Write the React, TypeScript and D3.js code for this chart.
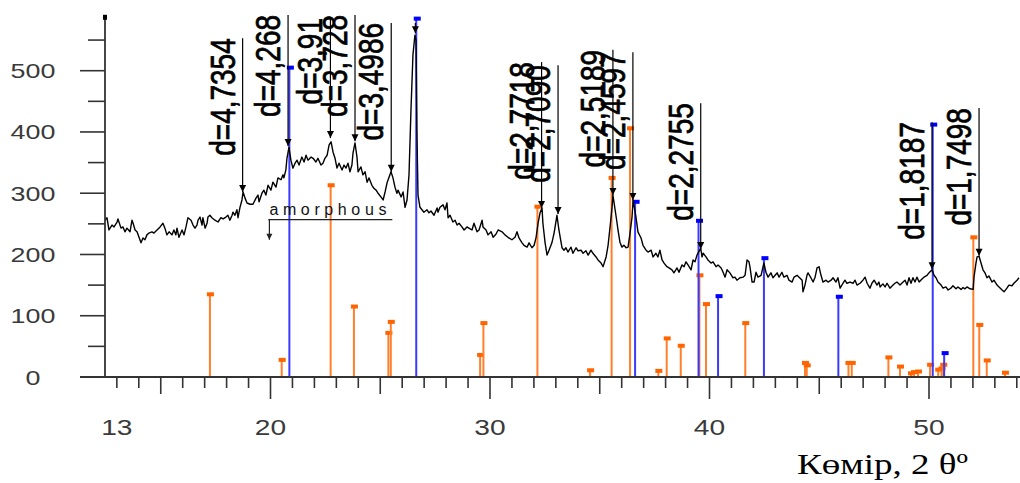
import React from 'react';
import * as d3 from 'd3';

// Measured XRD scan: [2θ (deg), intensity (counts)]
const scan: [number, number][] = [
  [12.46,256],[12.55,260],[12.64,240],[12.78,248],[12.87,245],[13.01,253],[13.05,258],[13.19,243],[13.28,245],[13.37,237],[13.46,243],[13.60,237],[13.69,256],[13.74,251],[13.83,240],[13.92,237],[14.01,228],[14.10,219],[14.19,227],[14.28,224],[14.37,232],[14.46,235],[14.60,237],[14.69,235],[14.83,240],[14.97,245],[15.10,251],[15.19,243],[15.28,232],[15.38,237],[15.51,232],[15.60,240],[15.69,232],[15.74,243],[15.83,228],[15.97,240],[16.06,232],[16.15,245],[16.24,260],[16.38,256],[16.47,248],[16.56,243],[16.65,248],[16.70,256],[16.79,261],[16.88,248],[16.92,260],[17.02,243],[17.11,251],[17.15,261],[17.24,264],[17.33,260],[17.47,256],[17.61,253],[17.74,260],[17.84,258],[17.97,261],[18.06,264],[18.15,256],[18.25,264],[18.29,269],[18.38,264],[18.47,273],[18.52,260],[18.61,277],[18.70,289],[18.75,302],[18.84,292],[18.93,284],[19.07,282],[19.20,282],[19.34,292],[19.43,297],
  [19.48,286],[19.61,300],[19.70,305],[19.79,297],[19.89,313],[20.02,305],[20.11,318],[20.25,310],[20.34,325],[20.48,322],[20.57,330],[20.61,325],[20.70,338],[20.75,357],[20.84,375],[20.93,354],[21.02,341],[21.12,349],[21.21,354],[21.30,346],[21.43,359],[21.53,351],[21.62,362],[21.71,354],[21.85,359],[21.94,357],[22.07,351],[22.16,357],[22.30,346],[22.39,349],[22.48,357],[22.58,362],[22.67,379],[22.76,384],[22.85,367],[22.94,357],[23.03,341],[23.12,349],[23.26,338],[23.35,346],[23.44,341],[23.53,349],[23.62,335],[23.71,346],[23.76,366],[23.85,382],[23.94,359],[23.99,335],[24.12,343],[24.21,330],[24.31,335],[24.40,318],[24.49,325],[24.62,313],[24.71,308],[24.81,305],[24.90,300],[25.03,294],[25.13,289],[25.22,302],[25.31,317],[25.40,326],[25.49,335],[25.58,325],[25.67,310],[25.76,300],[25.81,305],[25.95,294],[26.04,302],[26.13,277],[26.22,289],[26.31,330],[26.40,436],[26.49,526],[26.58,558],[26.63,550],[26.67,403],[26.72,297],[26.81,277],
  [26.90,273],[26.99,269],[27.13,273],[27.22,268],[27.31,271],[27.45,264],[27.59,276],[27.63,269],[27.72,277],[27.86,281],[27.95,273],[28.04,284],[28.09,260],[28.18,264],[28.31,253],[28.41,256],[28.50,248],[28.59,251],[28.72,245],[28.82,240],[28.95,245],[29.04,243],[29.18,240],[29.27,251],[29.41,237],[29.50,240],[29.64,256],[29.68,245],[29.82,240],[29.91,232],[30.05,237],[30.14,228],[30.27,233],[30.37,240],[30.55,237],[30.68,232],[30.82,228],[31.00,224],[31.14,228],[31.23,237],[31.32,227],[31.46,219],[31.55,215],[31.69,212],[31.78,219],[31.91,211],[32.01,215],[32.10,228],[32.19,251],[32.28,268],[32.37,276],[32.41,251],[32.51,219],[32.60,199],[32.69,207],[32.82,219],[32.92,235],[33.05,264],[33.14,240],[33.28,211],[33.37,207],
  [33.46,211],[33.55,204],[33.69,212],[33.78,202],[33.92,211],[34.01,206],[34.15,207],[34.24,202],[34.37,206],[34.47,199],[34.60,207],[34.69,202],[34.83,196],[34.92,191],[35.06,186],[35.15,180],[35.29,196],[35.38,215],[35.47,245],[35.56,277],[35.60,297],[35.70,273],[35.79,251],[35.83,240],[35.92,220],[36.01,212],[36.10,215],[36.20,211],[36.29,212],[36.38,235],[36.47,261],[36.52,289],[36.65,261],[36.74,237],[36.88,227],[36.97,215],[37.11,207],[37.20,204],[37.34,207],[37.43,196],[37.56,202],[37.65,196],[37.74,207],[37.84,191],[37.93,186],[38.06,180],[38.16,178],[38.29,175],[38.38,170],[38.52,178],[38.61,171],[38.75,183],[38.84,180],[38.93,188],[39.02,183],[39.16,175],[39.25,191],[39.34,188],[39.43,199],[39.52,205],[39.60,210],[39.66,196],[39.71,202],[39.84,196],[39.93,191],[40.07,186],[40.16,188],[40.30,180],[40.39,183],[40.53,178],[40.62,171],[40.71,163],
  [40.80,175],[40.93,170],[41.07,162],[41.16,163],[41.25,158],[41.39,162],[41.53,163],[41.62,166],[41.71,191],[41.80,188],[41.85,178],[41.94,155],[42.03,155],[42.12,171],[42.21,163],[42.35,166],[42.44,180],[42.48,186],[42.57,171],[42.67,163],[42.80,170],[42.89,162],[42.99,166],[43.08,170],[43.17,163],[43.30,171],[43.39,163],[43.53,166],[43.62,158],[43.76,155],[43.85,163],[43.99,166],[44.08,163],[44.22,158],[44.26,139],[44.35,150],[44.44,166],[44.49,170],[44.62,162],[44.72,155],[44.81,163],[44.90,178],[44.99,180],[45.08,166],[45.17,155],[45.31,158],[45.40,155],[45.54,158],[45.63,162],[45.76,155],[45.85,162],[45.95,145],[46.08,153],[46.17,158],[46.26,153],[46.40,155],[46.54,153],[46.63,158],[46.72,150],[46.86,153],[46.99,158],[47.09,163],[47.18,153],[47.31,145],[47.40,153],[47.50,158],[47.63,150],[47.72,155],
  [47.77,147],[47.90,152],[48.00,147],[48.09,153],[48.22,145],[48.36,150],[48.45,153],[48.54,155],[48.68,150],[48.82,155],[48.91,158],[49.00,150],[49.09,162],[49.18,153],[49.27,162],[49.36,155],[49.45,163],[49.55,155],[49.68,160],[49.77,163],[49.91,166],[50.00,170],[50.14,175],[50.23,166],[50.32,162],[50.41,155],[50.55,150],[50.64,145],[50.77,147],[50.87,142],[51.00,145],[51.09,149],[51.23,144],[51.32,147],[51.46,143],[51.55,146],[51.64,144],[51.73,147],[51.87,144],[52.01,143],[52.05,163],[52.14,186],[52.19,196],[52.28,197],[52.37,186],[52.46,175],[52.55,170],[52.64,162],[52.73,165],[52.87,155],[52.96,158],[53.10,150],[53.19,147],[53.33,142],[53.42,139],[53.55,145],[53.64,150],[53.78,149],[53.87,153],[54.01,158],[54.10,162]
];

// Reference pattern 1 (orange sticks)
const orangeTheta = [17.24, 20.51, 22.74, 23.80, 25.37, 25.48, 29.55, 29.70, 32.16, 34.56, 35.54, 36.38, 37.67, 38.05, 38.69, 39.54, 39.84, 41.63, 44.35, 44.43, 46.33, 46.48, 48.15, 48.68, 49.18, 49.32, 49.50, 50.05, 50.42, 50.57, 50.65, 52.02, 52.29, 52.63, 53.46];
const orangeCounts = [135, 28, 313, 115, 72, 90, 36, 88, 278, 11, 325, 406, 10, 63, 51, 166, 119, 88, 23, 19, 23, 23, 32, 17, 6, 8, 9, 20, 12, 14, 20, 228, 85, 27, 7];

// Reference pattern 2 (blue sticks)
const blueTheta = [20.86, 26.64, 36.61, 39.50, 40.39, 42.48, 45.87, 50.17, 50.69];
const blueCounts = [505, 585, 286, 255, 132, 194, 131, 412, 39];

// Peak annotations
const peakTheta = [18.73, 20.80, 22.73, 23.85, 25.50, 32.35, 33.10, 35.60, 36.51, 39.60, 50.14, 52.28];
const peakTop = [553, 591, 586, 591, 578, 514, 509, 534, 530, 447, 416, 439];
const peakTip = [302, 377, 390, 385, 335, 276, 266, 297, 289, 209, 176, 198];
const peakLabels = ['d=4,7354', 'd=4,268', 'd=3,91', 'd=3,728', 'd=3,4986', 'd=2,7718', 'd=2,7090', 'd=2,5189', 'd=2,4597', 'd=2,2755', 'd=1,8187', 'd=1,7498'];

const mainPeakArrow = { theta: 26.60, top: 578, tip: 561 };
const amorphous = { label: 'amorphous', from: 19.9, to: 25.55, at: 19.95, level: 257, arrowTo: 224, textLevel: 264 };

const xTickLabels = [13, 20, 30, 40, 50];
const yTickLabels = [0, 100, 200, 300, 400, 500];
const axisTitle = 'Көмір, 2 θº';

export default function App() {
  const W = 1020, H = 483;
  const x = d3.scaleLinear().domain([20, 50]).range([270.5, 929]);
  const y = d3.scaleLinear().domain([0, 500]).range([377, 70.7]);
  const x0 = x(12.46);
  const yTop = y(588);
  const base = y(0);
  const line = d3.line<[number, number]>().x(d => x(d[0])).y(d => y(d[1]));
  const xTicks = d3.range(13, 55);
  const yTicks = d3.range(50, 551, 50);
  const axisColor = '#333';
  const sans = 'Liberation Sans, Arial, sans-serif';
  const tri = (cx: number, ty: number, w = 3.5, h = 7) => `M${cx - w},${ty - h}L${cx + w},${ty - h}L${cx},${ty}Z`;

  return (
    <svg width={W} height={H} style={{ position: 'absolute', left: 0, top: 0, display: 'block', background: '#fff' }}>
      <rect width={W} height={H} fill="#fff" />
      {/* sticks */}
      {orangeTheta.map((t, i) => (
        <g key={'o' + i}>
          <line x1={x(t)} x2={x(t)} y1={base} y2={y(orangeCounts[i])} stroke="#ff7f2a" strokeWidth={2} />
          <rect x={x(t) - 3} y={y(orangeCounts[i]) - 2} width={7} height={4} fill="#ff6400" />
        </g>
      ))}
      {blueTheta.map((t, i) => (
        <g key={'b' + i}>
          <line x1={x(t)} x2={x(t)} y1={base} y2={y(blueCounts[i])} stroke="#3a3aff" strokeWidth={2} />
          <rect x={x(t) - 2.5} y={y(blueCounts[i]) - 2} width={7} height={4} fill="#0000ff" />
        </g>
      ))}
      {/* scan */}
      <path d={line(scan) || ''} fill="none" stroke="#000" strokeWidth={1.4} strokeLinejoin="round" />
      {/* axes */}
      <line x1={80} x2={W} y1={base} y2={base} stroke={axisColor} strokeWidth={1.8} />
      <line x1={x0} x2={x0} y1={yTop} y2={base} stroke={axisColor} strokeWidth={1.8} />
      <rect x={x0 - 2} y={yTop - 2} width={4} height={5} fill="#000" />
      {xTicks.map(t => {
        const len = t % 10 === 0 ? 22 : t % 5 === 0 ? 17 : 11;
        return <line key={'xt' + t} x1={x(t)} x2={x(t)} y1={base} y2={base + len} stroke={axisColor} strokeWidth={1.6} />;
      })}
      {yTicks.map(v => {
        const major = v % 100 === 0;
        return <line key={'yt' + v} x1={major ? 80 : 88} x2={x0} y1={y(v)} y2={y(v)} stroke={axisColor} strokeWidth={1.6} />;
      })}
      {xTickLabels.map(v => (
        <text key={'xl' + v} transform={`translate(${x(v)},${435}) scale(1.28,1)`} textAnchor="middle" fontSize={22} fontFamily={sans} fill="#3a3a3a">{v}</text>
      ))}
      {yTickLabels.map(v => (
        <text key={'yl' + v} transform={`translate(33,${y(v) + 7.5}) scale(1.28,1)`} textAnchor="middle" fontSize={21} fontFamily={sans} fill="#3a3a3a">{v}</text>
      ))}
      {/* amorphous bracket */}
      <text x={x(amorphous.at)} y={y(amorphous.textLevel)} fontSize={16} fontFamily={sans} fill="#111" textLength={117} lengthAdjust="spacing">{amorphous.label}</text>
      <line x1={x(amorphous.from)} x2={x(amorphous.to)} y1={y(amorphous.level)} y2={y(amorphous.level)} stroke="#222" strokeWidth={1.2} />
      <line x1={x(amorphous.at)} x2={x(amorphous.at)} y1={y(amorphous.level)} y2={y(amorphous.arrowTo)} stroke="#222" strokeWidth={1.2} />
      <path d={tri(x(amorphous.at), y(amorphous.arrowTo), 3, 6)} fill="#222" />
      {/* main peak arrow */}
      <line x1={x(mainPeakArrow.theta)} x2={x(mainPeakArrow.theta)} y1={y(mainPeakArrow.top)} y2={y(mainPeakArrow.tip)} stroke="#000" strokeWidth={1.2} />
      <path d={tri(x(mainPeakArrow.theta), y(mainPeakArrow.tip))} fill="#000" />
      {/* peak annotations */}
      {peakTheta.map((t, i) => {
        const lx = x(t);
        return (
          <g key={'p' + i}>
            <line x1={lx} x2={lx} y1={y(peakTop[i])} y2={y(peakTip[i])} stroke="#000" strokeWidth={1.2} />
            <path d={tri(lx, y(peakTip[i]))} fill="#000" />
            <text transform={`translate(${lx - 8},${y(peakTop[i])}) rotate(-90) scale(1,1.25)`} textAnchor="end" fontSize={28} fontFamily={sans} fill="#000" stroke="#000" strokeWidth={0.6}>{peakLabels[i]}</text>
          </g>
        );
      })}
      <text x={797} y={474} fontSize={30} fontFamily="Liberation Serif, Times New Roman, serif" fill="#000" textLength={171} lengthAdjust="spacingAndGlyphs">{axisTitle}</text>
    </svg>
  );
}
